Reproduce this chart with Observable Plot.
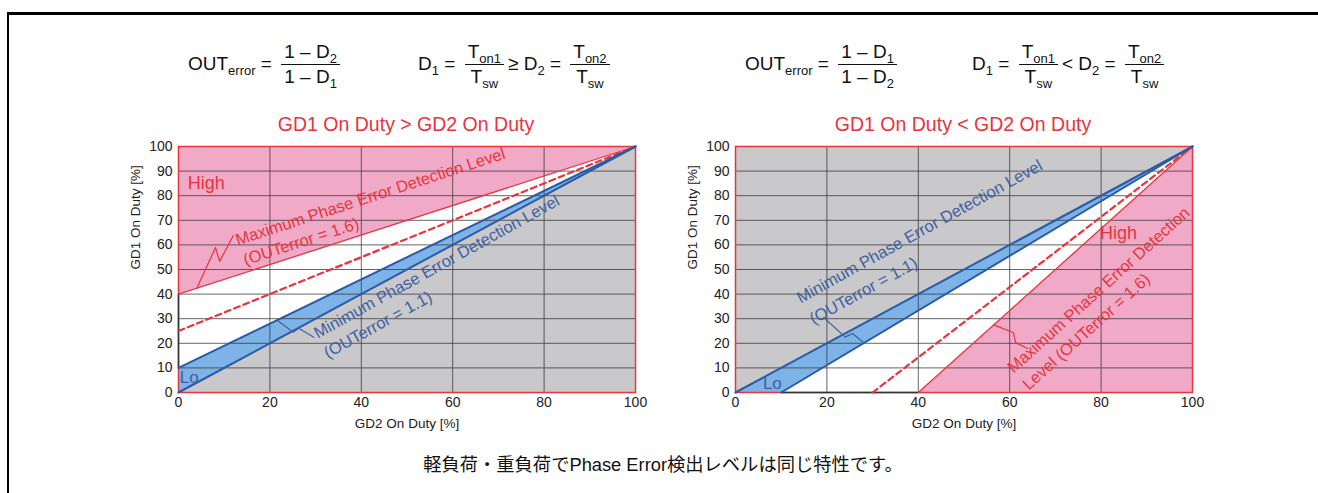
<!DOCTYPE html>
<html><head><meta charset="utf-8">
<script src="https://cdn.jsdelivr.net/npm/d3@7"></script>
<script src="https://cdn.jsdelivr.net/npm/@observablehq/plot@0.6"></script>
<style>
body{margin:0;width:1318px;height:493px;position:relative;overflow:hidden;background:#fff;font-family:"Liberation Sans",Arial,sans-serif;}
.frame{position:absolute;left:7px;top:12px;width:1400px;height:600px;border-top:3px solid #000;border-left:2px solid #000;}
.formula{position:absolute;font-size:19px;color:#111;white-space:nowrap;line-height:50px;height:50px;}
.frac{display:inline-block;vertical-align:middle;text-align:center;margin:0 4px;line-height:22px;}
.frac .num{display:block;border-bottom:1.5px solid #111;padding:0 3px 1px;}
.frac .den{display:block;padding:1px 3px 0;}
sub{font-size:13px;vertical-align:-5px;line-height:0}
.title{position:absolute;color:#e8343c;font-size:19.5px;transform:translate(-50%,-50%);white-space:nowrap}
.caption{position:absolute;font-family:"Liberation Sans","Noto Sans CJK JP",sans-serif;font-size:18.3px;color:#111;white-space:nowrap;transform:translate(-50%,-50%)}
.panel{position:absolute;}
</style>
</head><body>
<div class="frame"></div>
<div id="f1" class="formula" style="left:188px;top:39px"></div>
<div id="f2" class="formula" style="left:418px;top:39px"></div>
<div id="f3" class="formula" style="left:745px;top:39px"></div>
<div id="f4" class="formula" style="left:972px;top:39px"></div>
<div class="title" id="t1" style="left:406px;top:124px"></div>
<div class="title" id="t2" style="left:963px;top:124px"></div>
<div class="panel" id="p1" style="left:118px;top:136px"></div>
<div class="panel" id="p2" style="left:675px;top:136px"></div>
<div class="caption" id="cap" style="left:663px;top:463px"></div>
<script>
// ---- data ----
const xTicks = [0, 20, 40, 60, 80, 100];
const yTicks = [0, 10, 20, 30, 40, 50, 60, 70, 80, 90, 100];
const titles = ["GD1 On Duty > GD2 On Duty", "GD1 On Duty < GD2 On Duty"];
const xLabel = "GD2 On Duty [%]";
const yLabel = "GD1 On Duty [%]";
const caption = "軽負荷・重負荷でPhase Error検出レベルは同じ特性です。";

// left chart (GD1 > GD2): lines as [GD2, GD1] points
const leftMaxLevel = [[0, 40], [100, 100]];   // OUTerror = 1.6
const leftMidLevel = [[0, 25], [100, 100]];   // dashed
const leftMinLevel = [[0, 10], [100, 100]];   // OUTerror = 1.1
const leftDiagonal = [[0, 0], [100, 100]];
const leftHighCorner = [0, 100];
const leftLowCorner = [100, 0];
const leftDarkEdge = [10, 40];

// right chart (GD1 < GD2)
const rightMaxLevel = [[40, 0], [100, 100]];
const rightMidLevel = [[30, 0], [100, 100]];
const rightMinLevel = [[10, 0], [100, 100]];
const rightDiagonal = [[0, 0], [100, 100]];
const rightHighCorner = [100, 0];
const rightLowCorner = [0, 100];
const rightDarkEdge = [10, 40];

// annotation texts
const maxText1 = "Maximum Phase Error Detection Level";
const maxText2 = "(OUTerror = 1.6)";
const minText1 = "Minimum Phase Error Detection Level";
const minText2 = "(OUTerror = 1.1)";
const rMaxText1 = "Maximum Phase Error Detection";
const rMaxText2 = "Level (OUTerror = 1.6)";

// ---- styles ----
const C = {pink: "#f0aac8", gray: "#c9c9cb", blueFill: "#7db3e6", blue: "#2b5aa6",
  red: "#e8343c", textBlue: "#40609f", grid: "#333"};
const FONT = "'Liberation Sans', Arial, sans-serif";

const pts = a => a.map(([x, y]) => ({x, y}));

function frac(n, d) { return `<span class="frac"><span class="num">${n}</span><span class="den">${d}</span></span>`; }
document.getElementById("f1").innerHTML = `OUT<sub>error</sub> = ` + frac("1 – D<sub>2</sub>", "1 – D<sub>1</sub>");
document.getElementById("f2").innerHTML = `D<sub>1</sub> = ` + frac("T<sub>on1</sub>", "T<sub>sw</sub>") + `≥ D<sub>2</sub> = ` + frac("T<sub>on2</sub>", "T<sub>sw</sub>");
document.getElementById("f3").innerHTML = `OUT<sub>error</sub> = ` + frac("1 – D<sub>1</sub>", "1 – D<sub>2</sub>");
document.getElementById("f4").innerHTML = `D<sub>1</sub> = ` + frac("T<sub>on1</sub>", "T<sub>sw</sub>") + `&lt; D<sub>2</sub> = ` + frac("T<sub>on2</sub>", "T<sub>sw</sub>");
document.getElementById("t1").textContent = titles[0];
document.getElementById("t2").textContent = titles[1];
document.getElementById("cap").textContent = caption;

function panel(o) {
  return Plot.plot({
    width: 537, height: 301,
    marginLeft: 60, marginRight: 20, marginTop: 10, marginBottom: 45,
    x: {domain: [0, 100]}, y: {domain: [0, 100]},
    style: {fontFamily: FONT, fontSize: "14px", color: "#222", background: "transparent", overflow: "visible"},
    marks: [
      Plot.line(pts(o.pink), {x: "x", y: "y", fill: C.pink, stroke: "none"}),
      Plot.line(pts(o.gray), {x: "x", y: "y", fill: C.gray, stroke: "none"}),
      Plot.line(pts(o.band), {x: "x", y: "y", fill: C.blueFill, stroke: "none"}),
      Plot.gridX({ticks: xTicks, stroke: C.grid, strokeOpacity: 0.75}),
      Plot.gridY({ticks: yTicks, stroke: C.grid, strokeOpacity: 0.75}),
      Plot.frame({stroke: C.red, strokeWidth: 1.5}),
      o.darkEdge,
      Plot.line(pts(o.mid), {x: "x", y: "y", stroke: C.red, strokeWidth: 2.2, strokeDasharray: "6,4"}),
      Plot.line(pts(o.max), {x: "x", y: "y", stroke: C.red, strokeWidth: 1.3}),
      Plot.line(pts(o.diag), {x: "x", y: "y", stroke: C.blue, strokeWidth: 2}),
      Plot.line(pts(o.min), {x: "x", y: "y", stroke: C.blue, strokeWidth: 2}),
      ...o.leaders.map(l => Plot.line(pts(l.p), {x: "x", y: "y", stroke: l.c, strokeWidth: 1.2})),
      ...o.labels.map(l => Plot.text([l.t], {x: () => l.x, y: () => l.y, text: d => d, rotate: l.r || 0,
        textAnchor: l.a || "start", fill: l.c, fontSize: l.s || 16.5})),
      Plot.axisX({ticks: xTicks, tickSize: 0, tickPadding: 5, label: null}),
      Plot.axisY({ticks: yTicks, tickSize: 0, tickPadding: 6, label: null}),
      Plot.text([xLabel], {frameAnchor: "bottom", dy: 35, text: d => d, fontSize: 13.5}),
      Plot.text([yLabel], {frameAnchor: "left", dx: -43, rotate: -90, text: d => d, fontSize: 13.5})
    ]
  });
}

document.getElementById("p1").append(panel({
  pink: leftMaxLevel.concat([leftHighCorner]),
  gray: leftDiagonal.concat([leftLowCorner]),
  band: leftDiagonal.concat(leftMinLevel.slice().reverse()),
  mid: leftMidLevel, max: leftMaxLevel, diag: leftDiagonal, min: leftMinLevel,
  darkEdge: Plot.ruleX([0], {y1: leftDarkEdge[0], y2: leftDarkEdge[1], stroke: "#333", strokeWidth: 1.5}),
  leaders: [
    {p: [[4, 42.4], [8.1, 58.9], [9.0, 53.3], [12.0, 63.8]], c: C.red},
    {p: [[21.6, 29.4], [25.1, 24.5], [26.3, 26.1], [29.6, 22.5]], c: C.textBlue}
  ],
  labels: [
    {t: "High", x: 2, y: 85, c: C.red, s: 18},
    {t: "Lo", x: 0.3, y: 6, c: C.textBlue, s: 17},
    {t: maxText1, x: 12.6, y: 61.8, r: -18, c: C.red},
    {t: maxText2, x: 14.3, y: 53.7, r: -18, c: C.red},
    {t: minText1, x: 29.9, y: 23.7, r: -29, c: C.textBlue},
    {t: minText2, x: 32.1, y: 15.6, r: -29, c: C.textBlue}
  ]
}));

document.getElementById("p2").append(panel({
  pink: rightMaxLevel.concat([rightHighCorner]),
  gray: rightDiagonal.concat([rightLowCorner]),
  band: rightDiagonal.concat(rightMinLevel.slice().reverse()),
  mid: rightMidLevel, max: rightMaxLevel, diag: rightDiagonal, min: rightMinLevel,
  darkEdge: Plot.ruleY([0], {x1: rightDarkEdge[0], x2: rightDarkEdge[1], stroke: "#333", strokeWidth: 1.5}),
  leaders: [
    {p: [[19.3, 30.5], [24, 22.5], [25.6, 24], [28, 20.3]], c: C.textBlue},
    {p: [[56.5, 27.5], [60.8, 24.4], [61.3, 20.3], [63.9, 17.9]], c: C.red}
  ],
  labels: [
    {t: "High", x: 83.8, y: 64.6, c: C.red, s: 18, a: "middle"},
    {t: "Lo", x: 6, y: 3.7, c: C.textBlue, s: 17},
    {t: minText1, x: 13.7, y: 38.0, r: -29, c: C.textBlue},
    {t: minText2, x: 16.5, y: 29.4, r: -29, c: C.textBlue},
    {t: rMaxText1, x: 60.1, y: 9.2, r: -42, c: C.red},
    {t: rMaxText2, x: 63.4, y: 2.3, r: -42, c: C.red}
  ]
}));
</script>
</body></html>
